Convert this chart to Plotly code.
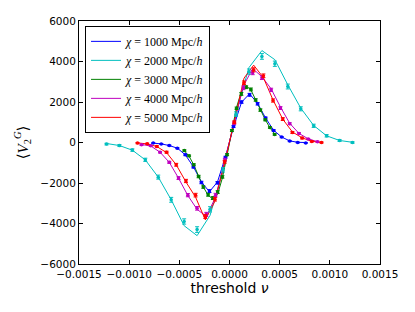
import plotly.graph_objects as go

# ---- data ----
labels = ["1000", "2000", "3000", "4000", "5000"]
colors = ["#0000ff", "#00bfbf", "#008000", "#bf00bf", "#ff0000"]

x_1000 = [-0.00076, -0.00068, -0.0006, -0.00052, -0.00044, -0.00036, -0.00028, -0.0002, -0.00012, -0.00004,
          0.00004, 0.00012, 0.0002, 0.00028, 0.00036, 0.00044, 0.00052, 0.0006, 0.00068, 0.00076]
pts_1000 = [-30, -70, -150, -280, -610, -1210, -1975, -2400, -1990, -730,
            790, 1995, 2355, 1911, 1205, 593, 267, 69, 0, -20]
line_1000 = [-30, -70, -150, -280, -610, -1200, -1950, -2430, -1950, -700,
             760, 1990, 2405, 1930, 1210, 600, 270, 80, 10, 0]
err_1000 = [20, 20, 25, 30, 40, 50, 60, 70, 60, 50, 50, 60, 70, 60, 50, 40, 30, 25, 20, 20]

x_2000 = [-0.001226, -0.001097, -0.000968, -0.000839, -0.00071, -0.000581, -0.000452, -0.000323, -0.000194, -0.0000645,
          0.0000645, 0.000194, 0.000323, 0.000452, 0.000581, 0.00071, 0.000839, 0.000968, 0.001097, 0.001226]
pts_2000 = [-80, -150, -375, -855, -1710, -2830, -3900, -4300, -3300, -1350,
            1400, 3500, 4250, 3890, 2765, 1664, 825, 331, 99, 0]
line_2000 = [-50, -150, -380, -860, -1710, -2830, -4110, -4600, -3600, -1400,
             1450, 3700, 4540, 4090, 2850, 1700, 840, 330, 100, 10]
err_2000 = [40, 50, 60, 80, 100, 120, 130, 140, 130, 110, 110, 130, 140, 130, 120, 100, 80, 60, 50, 40]

x_3000 = [-0.00045, -0.000403, -0.000356, -0.000308, -0.000261, -0.000213, -0.000166, -0.000118, -0.000071, -0.000024,
          0.000024, 0.000071, 0.000118, 0.000166, 0.000213, 0.000261, 0.000308, 0.000356, 0.000403, 0.00045]
pts_3000 = [-400, -660, -1100, -1680, -2200, -2580, -2745, -2450, -1700, -600,
            590, 1690, 2400, 2730, 2620, 2100, 1600, 1120, 740, 400]
line_3000 = [-410, -680, -1100, -1650, -2200, -2600, -2800, -2550, -1750, -620,
             620, 1750, 2500, 2800, 2600, 2100, 1620, 1130, 730, 410]
err_3000 = [40, 40, 50, 60, 60, 70, 70, 70, 60, 50, 50, 60, 70, 70, 70, 60, 60, 50, 40, 40]

x_4000 = [-0.000877, -0.000785, -0.000692, -0.0006, -0.000508, -0.000415, -0.000323, -0.000231, -0.000139, -0.000046,
          0.000046, 0.000139, 0.000231, 0.000323, 0.000415, 0.000508, 0.0006, 0.000692, 0.000785, 0.000877]
pts_4000 = [-114, -163, -480, -980, -1758, -2600, -3250, -3550, -2600, -850,
            950, 2700, 3450, 3200, 2600, 1700, 930, 450, 170, 35]
line_4000 = [-100, -170, -480, -980, -1760, -2620, -3300, -3650, -2700, -850,
             950, 2800, 3650, 3250, 2650, 1750, 950, 450, 180, 40]
err_4000 = [30, 30, 40, 50, 70, 80, 90, 100, 90, 70, 70, 90, 100, 90, 80, 70, 50, 40, 30, 30]

x_5000 = [-0.000917, -0.00082, -0.000724, -0.000627, -0.000531, -0.000434, -0.000338, -0.000241, -0.000145, -0.000048,
          0.000048, 0.000145, 0.000241, 0.000338, 0.000434, 0.000531, 0.000627, 0.000724, 0.00082, 0.000917]
pts_5000 = [-30, -64, -198, -480, -1100, -1900, -2600, -3650, -2800, -950,
            1000, 2950, 3590, 3295, 2074, 1156, 494, 217, 49, 0]
line_5000 = [-20, -70, -200, -500, -1100, -1950, -2700, -3820, -2900, -1000,
             1050, 3180, 3820, 3200, 2100, 1150, 520, 230, 60, 0]
err_5000 = [30, 30, 40, 50, 70, 80, 90, 100, 90, 70, 70, 90, 100, 90, 80, 70, 50, 40, 30, 30]

x_ticks = [-0.0015, -0.0010, -0.0005, 0.0, 0.0005, 0.0010, 0.0015]
x_tick_text = ["\u22120.0015", "\u22120.0010", "\u22120.0005", "0.0000", "0.0005", "0.0010", "0.0015"]
y_ticks = [-6000, -4000, -2000, 0, 2000, 4000, 6000]
y_tick_text = ["\u22126000", "\u22124000", "\u22122000", "0", "2000", "4000", "6000"]

series = [
    (x_1000, pts_1000, line_1000, err_1000),
    (x_2000, pts_2000, line_2000, err_2000),
    (x_3000, pts_3000, line_3000, err_3000),
    (x_4000, pts_4000, line_4000, err_4000),
    (x_5000, pts_5000, line_5000, err_5000),
]

fig = go.Figure()
serif = "Liberation Serif, DejaVu Serif, serif"
sans = "DejaVu Sans, sans-serif"

for (xs, pts, ln, er), lab, col in zip(series, labels, colors):
    fig.add_trace(go.Scatter(
        x=xs, y=ln, mode="lines", line=dict(color=col, width=1),
        name="<i>\u03c7</i> = " + lab + " Mpc/<i>h</i>",
    ))
for (xs, pts, ln, er), lab, col in zip(series, labels, colors):
    fig.add_trace(go.Scatter(
        x=xs, y=pts, mode="markers", showlegend=False,
        marker=dict(color=col, size=3.5, symbol="circle"),
        error_y=dict(type="data", array=er, color=col, thickness=1, width=2),
    ))

axis_common = dict(
    showline=True, linecolor="black", linewidth=1, mirror="ticks",
    ticks="inside", ticklen=4, tickcolor="black", showgrid=False, zeroline=False,
    tickfont=dict(family=sans, size=10.5, color="black"), automargin=False,
)

fig.update_layout(
    width=407, height=304,
    margin=dict(l=71, r=35, t=13, b=48),
    paper_bgcolor="white", plot_bgcolor="white",
    xaxis=dict(range=[-0.0015, 0.0015], tickvals=x_ticks, ticktext=x_tick_text,
               title=dict(text="threshold <i>\u03bd</i>", font=dict(family=sans, size=14, color="black"), standoff=4),
               **axis_common),
    yaxis=dict(range=[-6000, 6000], tickvals=y_ticks, ticktext=y_tick_text,
               title=dict(text="\u27e8<i>V</i><sub>2</sub><sup><i>G</i></sup>\u27e9",
                          font=dict(family=serif, size=15, color="black"), standoff=8),
               **axis_common),
    legend=dict(x=0.02, y=0.98, xanchor="left", yanchor="top",
                bordercolor="black", borderwidth=1, bgcolor="white",
                font=dict(family=serif, size=12, color="black"),
                tracegroupgap=0, itemwidth=30),
    showlegend=True,
)

fig.write_html("out.html")
